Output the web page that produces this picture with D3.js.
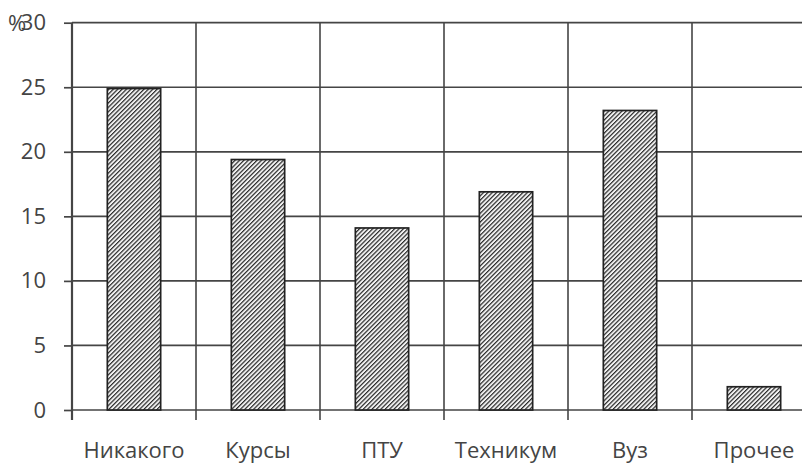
<!DOCTYPE html>
<html>
<head>
<meta charset="utf-8">
<script src="https://cdn.jsdelivr.net/npm/d3@7"></script>
<style>
  html, body { margin: 0; padding: 0; background: #fff; }
  svg { display: block; }
  text { font-family: "Open Sans", "Noto Sans", sans-serif; fill: #444; }
</style>
</head>
<body>
<svg id="chart" width="802" height="464"></svg>
<script>
// Education level categories and shares (%)
const categories = ["Никакого", "Курсы", "ПТУ", "Техникум", "Вуз", "Прочее"];
const shares = [24.9, 19.4, 14.1, 16.9, 23.2, 1.8];
const yTicks = [0, 5, 10, 15, 20, 25, 30];
const unitLabel = "%";

const svg = d3.select("#chart");
const plotLeft = 72, plotRight = 816, plotTop = 22.7, plotBottom = 410;
const fontSize = 22;

const x = d3.scaleBand()
  .domain(categories)
  .range([plotLeft, plotRight])
  .paddingInner(0.57)
  .paddingOuter(0.285);

const y = d3.scaleLinear().domain([0, 30]).range([plotBottom, plotTop]);

// diagonal hatch fill for the bars
const defs = svg.append("defs");
const pat = defs.append("pattern")
  .attr("id", "hatch")
  .attr("patternUnits", "userSpaceOnUse")
  .attr("width", 3.1)
  .attr("height", 3.1)
  .attr("patternTransform", "rotate(45)");
pat.append("rect").attr("width", 3.1).attr("height", 3.1).attr("fill", "#f2f2f2");
pat.append("line")
  .attr("x1", 0).attr("y1", 0).attr("x2", 0).attr("y2", 3.1)
  .attr("stroke", "#2a2a2a").attr("stroke-width", 2.4);

// horizontal grid lines with left ticks
const yAxis = d3.axisLeft(y)
  .tickValues(yTicks)
  .tickSize(8)
  .tickPadding(18)
  .tickFormat(d3.format("d"));
const gy = svg.append("g").attr("transform", `translate(${plotLeft},0)`).call(yAxis);
gy.select(".domain").remove();
gy.selectAll(".tick line").attr("stroke", "#454545").attr("stroke-width", 1.7);
gy.selectAll(".tick text")
  .attr("font-size", fontSize)
  .attr("fill", "#444")
  .style("font-family", "'Open Sans', sans-serif");

svg.append("g")
  .selectAll("line")
  .data(yTicks)
  .join("line")
  .attr("x1", plotLeft).attr("x2", 802)
  .attr("y1", d => y(d)).attr("y2", d => y(d))
  .attr("stroke", "#454545")
  .attr("stroke-width", 1.7);

// vertical grid lines at category boundaries, extending slightly below zero
const bounds = categories.map(c => x(c) - x.step() * x.paddingInner() / 2);
svg.append("g")
  .selectAll("line")
  .data(bounds)
  .join("line")
  .attr("x1", d => d).attr("x2", d => d)
  .attr("y1", plotTop).attr("y2", plotBottom + 10)
  .attr("stroke", "#454545")
  .attr("stroke-width", (d, i) => i === 0 ? 2.2 : 1.6);

// bars
svg.append("g")
  .selectAll("rect")
  .data(categories)
  .join("rect")
  .attr("x", d => x(d))
  .attr("width", x.bandwidth())
  .attr("y", (d, i) => y(shares[i]))
  .attr("height", (d, i) => y(0) - y(shares[i]))
  .attr("fill", "url(#hatch)")
  .attr("stroke", "#222")
  .attr("stroke-width", 1.7);

// category labels
const xAxis = d3.axisBottom(x).tickSize(0).tickPadding(32);
const gx = svg.append("g").attr("transform", `translate(0,${plotBottom})`).call(xAxis);
gx.select(".domain").remove();
gx.selectAll(".tick text")
  .attr("font-size", fontSize)
  .attr("fill", "#444")
  .style("font-family", "'Open Sans', sans-serif");

// unit label
svg.append("text")
  .attr("x", 8)
  .attr("y", 31)
  .attr("font-size", fontSize)
  .text(unitLabel);
</script>
</body>
</html>
